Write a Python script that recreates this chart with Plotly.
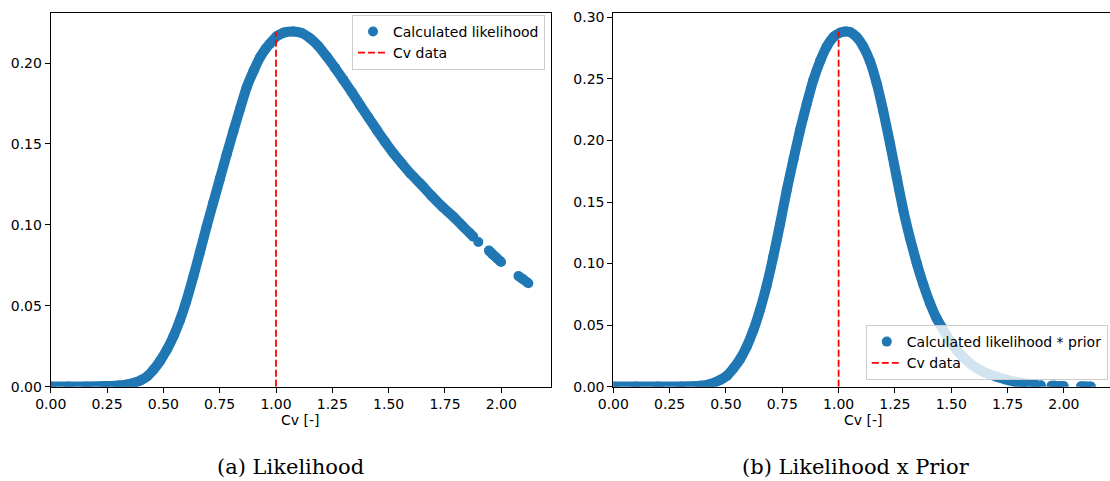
import plotly.graph_objects as go

# ---- Likelihood of Cv (left panel) ----
cv_like = [0.00, 0.08, 0.16, 0.24, 0.30, 0.34, 0.37, 0.40, 0.43, 0.455, 0.485, 0.515,
           0.545, 0.574, 0.600, 0.633, 0.662, 0.692, 0.721, 0.751, 0.781, 0.811, 0.840,
           0.870, 0.900, 0.929, 0.955, 0.973, 1.003, 1.035, 1.077, 1.115, 1.151, 1.188,
           1.225, 1.262, 1.299, 1.336, 1.373, 1.410, 1.447, 1.484, 1.521, 1.558, 1.595,
           1.639, 1.690, 1.740, 1.787, 1.830, 1.861, 1.876,
           None, 1.898,
           None, 1.945, 1.960, 1.976, 1.999,
           None, 2.076, 2.095, 2.120]
likelihood = [0.0001, 0.0001, 0.0002, 0.0004, 0.0008, 0.0014, 0.0024, 0.0040, 0.0066,
              0.0103, 0.0158, 0.0227, 0.0312, 0.0412, 0.0520, 0.0680, 0.0830, 0.0990,
              0.1135, 0.1285, 0.1435, 0.1580, 0.1715, 0.1850, 0.1950, 0.2035, 0.2090,
              0.2120, 0.2165, 0.2188, 0.2195, 0.2185, 0.2153, 0.2105, 0.2040, 0.1970,
              0.1896, 0.1820, 0.1741, 0.1664, 0.1587, 0.1513, 0.1443, 0.1380, 0.1319,
              0.1257, 0.1180, 0.1110, 0.1051, 0.0990, 0.0948, 0.0927,
              None, 0.0894,
              None, 0.0841, 0.0820, 0.0800, 0.0771,
              None, 0.0684, 0.0665, 0.0639]

# ---- Likelihood x prior (right panel) ----
cv_post = [0.00, 0.10, 0.20, 0.30, 0.385, 0.430, 0.474, 0.505, 0.533, 0.563, 0.592,
           0.622, 0.651, 0.681, 0.710, 0.740, 0.770, 0.800, 0.829, 0.859, 0.888, 0.918,
           0.947, 0.977, 1.006, 1.030, 1.051, 1.080, 1.110, 1.140, 1.169, 1.198, 1.228,
           1.258, 1.287, 1.317, 1.347, 1.376, 1.406, 1.435, 1.465, 1.494, 1.524, 1.553,
           1.583, 1.612, 1.642, 1.672, 1.702, 1.740, 1.780, 1.820, 1.876,
           None, 1.898,
           None, 1.945, 1.960, 1.976, 1.999,
           None, 2.076, 2.095, 2.120]
posterior = [0.0001, 0.0001, 0.0001, 0.0002, 0.0007, 0.0022, 0.0054, 0.0090, 0.0149,
             0.0225, 0.0325, 0.0460, 0.0623, 0.0825, 0.1056, 0.1320, 0.1598, 0.1850,
             0.2085, 0.2300, 0.2491, 0.2645, 0.2762, 0.2840, 0.2875, 0.2886, 0.2880,
             0.2840, 0.2762, 0.2640, 0.2465, 0.2240, 0.1977, 0.1700, 0.1435, 0.1205,
             0.1002, 0.0830, 0.0677, 0.0555, 0.0461, 0.0373, 0.0298, 0.0240, 0.0190,
             0.0152, 0.0122, 0.0100, 0.0081, 0.0060, 0.0042, 0.0028, 0.0015,
             None, 0.0012,
             None, 0.0008, 0.0007, 0.0006, 0.0005,
             None, 0.0003, 0.0002, 0.0002]

cv_data = 1.0
x_ticks = [0.0, 0.25, 0.5, 0.75, 1.0, 1.25, 1.5, 1.75, 2.0]
y_ticks_like = [0.0, 0.05, 0.10, 0.15, 0.20]
y_ticks_post = [0.0, 0.05, 0.10, 0.15, 0.20, 0.25, 0.30]

BLUE = "#1f77b4"
FONT = "DejaVu Sans"
FSIZE = 14
MSIZE = 10


def panel_traces(xs, ys, label, xa, ya, legend):
    pts = [(a, b) for a, b in zip(xs, ys) if a is not None]
    peak = max(b for _, b in pts)
    return [
        # the dense sample band
        go.Scatter(x=xs, y=ys, mode="lines", line=dict(color=BLUE, width=MSIZE, shape="spline", smoothing=0.5),
                   connectgaps=False, showlegend=False, hoverinfo="skip", xaxis=xa, yaxis=ya),
        go.Scatter(x=[p[0] for p in pts], y=[p[1] for p in pts], mode="markers", name=label,
                   marker=dict(color=BLUE, size=MSIZE, line=dict(width=0)),
                   xaxis=xa, yaxis=ya, legend=legend),
        # observed Cv
        go.Scatter(x=[cv_data, cv_data], y=[0, peak], mode="lines", name="Cv data",
                   line=dict(color="red", width=1.8, dash="7px,3px"),
                   xaxis=xa, yaxis=ya, legend=legend),
    ]


fig = go.Figure()
for t in panel_traces(cv_like, likelihood, "Calculated likelihood", "x", "y", "legend"):
    fig.add_trace(t)
for t in panel_traces(cv_post, posterior, "Calculated likelihood * prior", "x2", "y2", "legend2"):
    fig.add_trace(t)

axis_common = dict(showgrid=False, zeroline=False, showline=True, linecolor="black", linewidth=1,
                   mirror=True, ticks="outside", ticklen=5, tickwidth=1, tickcolor="black",
                   automargin=False,
                   tickfont=dict(family=FONT, size=FSIZE, color="black"), tickformat=".2f")

y_dom = [0.19605, 0.97360]
fig.update_layout(
    width=1110, height=481,
    margin=dict(l=0, r=0, t=0, b=0, autoexpand=False),
    paper_bgcolor="white", plot_bgcolor="white",
    font=dict(family=FONT, size=FSIZE, color="black"),
    xaxis=dict(domain=[0.04568, 0.49640], range=[0, 2.2206], tickvals=x_ticks, anchor="y", **axis_common),
    yaxis=dict(domain=y_dom, range=[0, 0.2311], tickvals=y_ticks_like, anchor="x", **axis_common),
    xaxis2=dict(domain=[0.55252, 1.0], range=[0, 2.2046], tickvals=x_ticks, anchor="y2", **axis_common),
    yaxis2=dict(domain=y_dom, range=[0, 0.3038], tickvals=y_ticks_post, anchor="x2", **axis_common),
    legend=dict(x=0.491, y=0.969, xanchor="right", yanchor="top",
                bgcolor="rgba(255,255,255,0.8)", bordercolor="#cccccc", borderwidth=1,
                font=dict(family=FONT, size=FSIZE), itemwidth=30, tracegroupgap=0),
    legend2=dict(x=0.998, y=0.2100, xanchor="right", yanchor="bottom",
                 bgcolor="rgba(255,255,255,0.8)", bordercolor="#cccccc", borderwidth=1,
                 font=dict(family=FONT, size=FSIZE), itemwidth=30, tracegroupgap=0),
    showlegend=True,
)

annos = [
    dict(text="Cv [-]", x=0.2711, y=1 - 420 / 481),
    dict(text="Cv [-]", x=0.7780, y=1 - 420 / 481),
]
for a in annos:
    fig.add_annotation(xref="paper", yref="paper", showarrow=False, xanchor="center", yanchor="middle",
                       font=dict(family=FONT, size=FSIZE, color="black"), **a)

captions = [
    dict(text="(a) Likelihood", x=0.2613),
    dict(text="(b) Likelihood x Prior", x=0.7716),
]
for c in captions:
    fig.add_annotation(xref="paper", yref="paper", y=1 - 467 / 481, showarrow=False,
                       xanchor="center", yanchor="middle",
                       font=dict(family="DejaVu Serif", size=21, color="black"), **c)

fig.write_html("out.html")
